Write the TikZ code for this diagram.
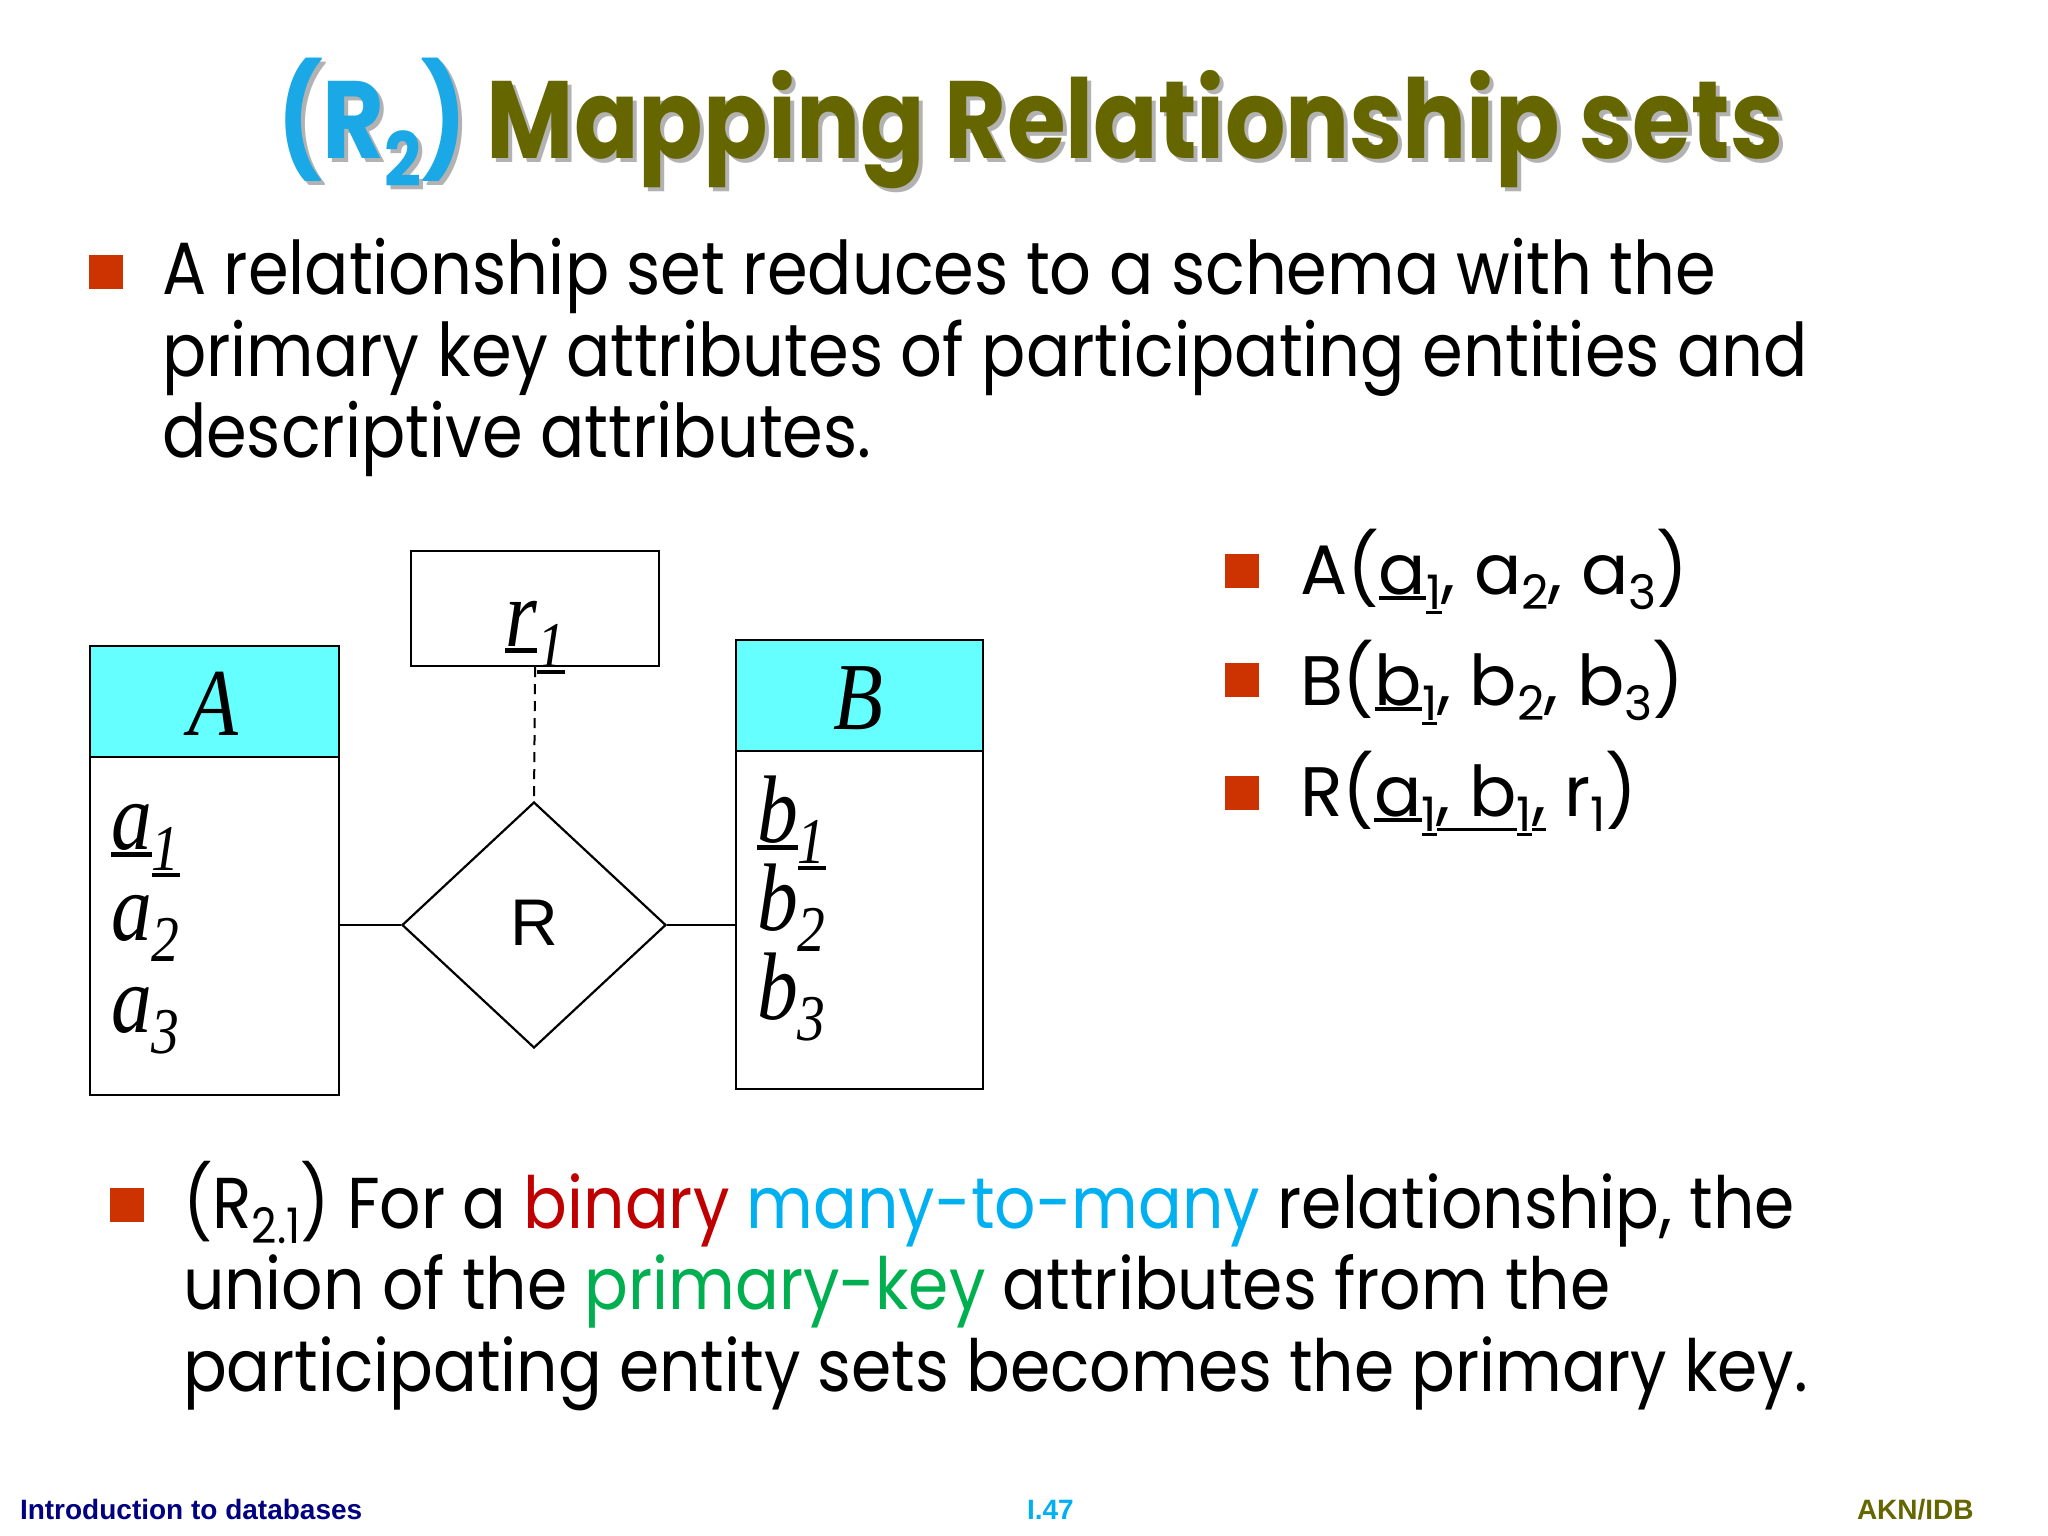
\documentclass[tikz,border=0pt]{standalone}
\usepackage{fontspec}
\usepackage{graphicx}
\usetikzlibrary{shapes.geometric}
\newfontfamily\gothic{Poppins}[FakeStretch=0.885]
\newfontfamily\gothicw{Poppins}[FakeStretch=1.0]
\newfontfamily\gothicp{Poppins}[FakeStretch=0.90]
\newfontfamily\titlef{Poppins}[FakeStretch=0.865]
\newfontfamily\tms{Liberation Serif}[FakeStretch=0.85]
\newfontfamily\arial{Liberation Sans}
\definecolor{olive}{HTML}{666600}
\definecolor{tblue}{HTML}{1AA8E6}
\definecolor{bred}{HTML}{CC3300}
\definecolor{kred}{HTML}{C00000}
\definecolor{kblue}{HTML}{00B0F0}
\definecolor{kgreen}{HTML}{00B050}
\definecolor{cyanfill}{HTML}{66FFFF}
\definecolor{navy}{HTML}{000080}
\newsavebox\ulb
\newcommand\ul[1]{\sbox\ulb{#1}\rlap{\rule[\dimexpr-\dp\ulb-0.07em\relax]{\wd\ulb}{0.045em}}\usebox\ulb}
\newcommand\dn[2][0.22em]{\raisebox{-#1}{\scalebox{0.68}{#2}}}
\begin{document}
\begin{tikzpicture}[x=1pt,y=-1pt,
  txt/.style={anchor=base west, inner sep=0pt, outer sep=0pt},
  bodytxt/.style={txt, font=\gothic\fontsize{74}{80}\selectfont},
  listtxt/.style={txt, font=\gothicw\fontsize{70}{74}\selectfont},
  paratxt/.style={txt, font=\gothicp\fontsize{72}{76}\selectfont},
  bulletsq/.style={fill=bred, draw=none, minimum width=34pt, minimum height=34pt, inner sep=0pt, anchor=north west},
  titletxt/.style={txt, font=\titlef\bfseries\fontsize{110}{112}\selectfont},
  erbox/.style={draw=black, line width=2.2pt, inner sep=0pt, anchor=north west},
  hdr/.style={erbox, fill=cyanfill},
  attr/.style={txt, font=\tms\itshape\fontsize{96}{100}\selectfont},
  foot/.style={txt, font=\arial\bfseries\fontsize{28}{30}\selectfont}
]
\useasboundingbox[fill=white] (0,0) rectangle (2048,1536);

% title
\node[titletxt, text=black!30] (titleshadow) at (281,163) {(R\dn[0.25em]{2}) Mapping Relationship sets};
\node[titletxt, text=olive] (title) at (277,159) {\textcolor{tblue}{(R\dn[0.25em]{2})} Mapping Relationship sets};

% first paragraph
\node[bulletsq] (b1) at (89,255) {};
\node[bodytxt] (p1l1) at (162,294) {A relationship set reduces to a schema with the};
\node[bodytxt] (p1l2) at (162,376) {primary key attributes of participating entities and};
\node[bodytxt] (p1l3) at (162,457) {descriptive attributes.};

% ER diagram
\node[hdr, minimum width=249pt, minimum height=111pt] (Ahead) at (89,645) {};
\node[erbox, minimum width=249pt, minimum height=338pt] (Abody) at (89,756) {};
\node[attr, anchor=base] (Alabel) at (213,735) {A};
\node[attr] (a1) at (111,849) {\ul{a}\ul{\dn{1}}};
\node[attr] (a2) at (111,940) {a\dn{2}};
\node[attr] (a3) at (111,1032) {a\dn{3}};

\node[hdr, minimum width=247pt, minimum height=111pt] (Bhead) at (735,639) {};
\node[erbox, minimum width=247pt, minimum height=338pt] (Bbody) at (735,750) {};
\node[attr, anchor=base] (Blabel) at (858,729) {B};
\node[attr] (bb1) at (757,842) {\ul{b}\ul{\dn{1}}};
\node[attr] (bb2) at (757,930) {b\dn{2}};
\node[attr] (bb3) at (757,1019) {b\dn{3}};

\node[erbox, minimum width=248pt, minimum height=115pt] (rbox) at (410,550) {};
\node[attr, anchor=base] (r1) at (535,646) {\ul{r}\ul{\dn{1}}};

\node[draw=black, line width=2.2pt, shape=diamond, minimum width=264pt, minimum height=246pt, inner sep=0pt,
      font=\arial\fontsize{66}{70}\selectfont] (R) at (534,925) {\raisebox{0.08em}{R}};

\draw[line width=2.2pt] (R.west) -- (R.west -| Abody.east);
\draw[line width=2.2pt] (R.east) -- (R.east -| Bbody.west);
\draw[line width=2pt, dash pattern=on 10pt off 7pt] (rbox.south) -- (R.north);

% right list
\node[bulletsq] (lb1) at (1225,554) {};
\node[bulletsq] (lb2) at (1225,663) {};
\node[bulletsq] (lb3) at (1225,776) {};
\node[listtxt] (l1) at (1300,594) {A(\ul{a}\ul{\dn{1}}, a\dn{2}, a\dn{3})};
\node[listtxt] (l2) at (1300,705) {B(\ul{b}\ul{\dn{1}}, b\dn{2}, b\dn{3})};
\node[listtxt] (l3) at (1300,816) {R(\ul{a}\ul{\dn{1}}\ul{, b}\ul{\dn{1}}\ul{,} r\dn{1})};

% bottom paragraph
\node[bulletsq] (b2) at (110,1188) {};
\node[paratxt] (p2l1) at (183,1228) {(R\dn{2.1}) For a \textcolor{kred}{binary} \textcolor{kblue}{many-to-many} relationship, the};
\node[paratxt] (p2l2) at (183,1309) {union of the \textcolor{kgreen}{primary-key} attributes from the};
\node[paratxt] (p2l3) at (183,1391) {participating entity sets becomes the primary key.};

% footer
\node[foot, text=navy] (f1) at (20,1519) {Introduction to databases};
\node[foot, text=kblue] (f2) at (1027,1519) {I.47};
\node[foot, text=olive] (f3) at (1857,1519) {AKN/IDB};
\end{tikzpicture}
\end{document}
